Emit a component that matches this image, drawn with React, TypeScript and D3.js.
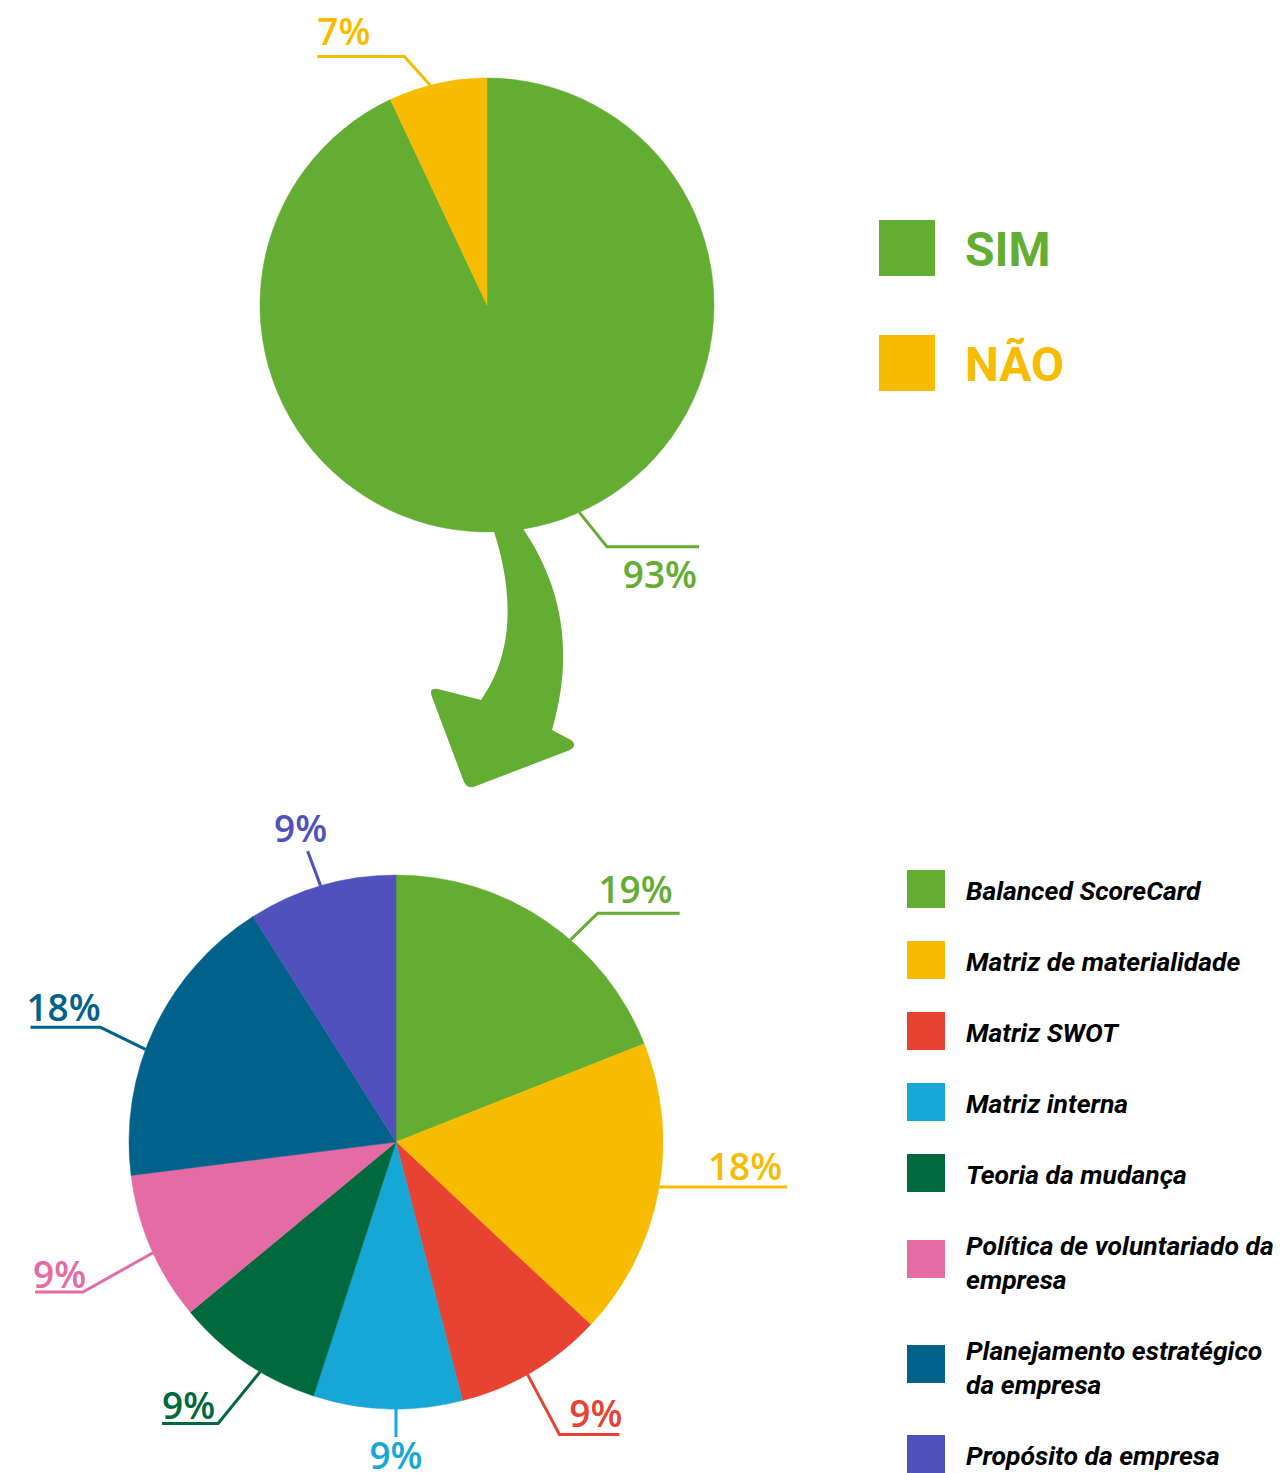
import * as d3 from 'd3'

// top pie: "SIM / NÃO"
const answerLabels = ['SIM', 'NÃO']
const answerValues = [93, 7]
const answerColors = ['#62ad32', '#f7bc00']

// bottom pie: methods used
const methodLabels = [
  'Balanced ScoreCard',
  'Matriz de materialidade',
  'Matriz SWOT',
  'Matriz interna',
  'Teoria da mudança',
  'Política de voluntariado da\nempresa',
  'Planejamento estratégico\nda empresa',
  'Propósito da empresa',
]
const methodValues = [19, 18, 9, 9, 9, 9, 18, 9]
const methodColors = ['#62ad32', '#f7bc00', '#e84232', '#17a7d6', '#00693e', '#e56ba4', '#00628b', '#5151bd']

// leader line layout (angles in degrees from 12 o'clock, radial length, horizontal run)
const answerLeaders = [
  { angle: 156, bend: 153.6, radial: 43, run: 92, anchor: 'end', dx: -2, dy: 41 },
  { angle: 345.5, bend: 341.6, radial: 35, run: -87, anchor: 'start', dx: 0, dy: -11 },
]
const methodLeaders = [
  { angle: 40.8, bend: 41.4, radial: 38, run: 82, anchor: 'end', dx: -7, dy: -10 },
  { angle: 99.7, bend: 99.7, radial: 0, run: 128, anchor: 'end', dx: -5, dy: -7 },
  { angle: 150.5, bend: 150.8, radial: 68, run: 60, anchor: 'end', dx: 3, dy: -7 },
  { angle: 180, bend: 180, radial: 28, run: 0, anchor: 'middle', dx: 0, dy: 32 },
  { angle: 210.6, bend: 212.3, radial: 66, run: -56, anchor: 'start', dx: 0, dy: -4 },
  { angle: 245.5, bend: 244.4, radial: 80, run: -48, anchor: 'start', dx: -2, dy: -4 },
  { angle: 290.3, bend: 291.2, radial: 50, run: -70, anchor: 'start', dx: -4, dy: -6 },
  { angle: 343.6, bend: 343.1, radial: 37, run: 0, anchor: 'middle', dx: -7, dy: -9 },
]

const W = 1287
const H = 1473
const pctFont = '"Open Sans", Lato, sans-serif'
const legendFont = 'Roboto, "Noto Sans", sans-serif'

type Leader = { angle: number; bend: number; radial: number; run: number; anchor: string; dx: number; dy: number }

function PieBlock({
  values,
  colors,
  leaders,
  cx,
  cy,
  r,
}: {
  values: number[]
  colors: string[]
  leaders: Leader[]
  cx: number
  cy: number
  r: number
}) {
  const total = d3.sum(values)
  const pie = d3.pie<number>().sort(null).value((d) => d)
  const arc = d3.arc<d3.PieArcDatum<number>>().innerRadius(0).outerRadius(r)
  const arcs = pie(values)
  const rad = d3.scaleLinear().domain([0, 360]).range([0, 2 * Math.PI])

  return (
    <g transform={`translate(${cx},${cy})`}>
      {arcs.map((a, i) => (
        <path key={i} d={arc(a) || ''} fill={colors[i]} stroke={colors[i]} strokeWidth={0.5} />
      ))}
      {arcs.map((a, i) => {
        const L = leaders[i]
        const t = rad(L.angle)
        const b = rad(L.bend)
        const sx = r * Math.sin(t)
        const sy = -r * Math.cos(t)
        const ex = (r + L.radial) * Math.sin(b)
        const ey = -(r + L.radial) * Math.cos(b)
        const hx = ex + L.run
        const line = d3.line()([
          [sx, sy],
          [ex, ey],
          [hx, ey],
        ])
        const pct = Math.round((a.value / total) * 100)
        return (
          <g key={'l' + i}>
            <path d={line || ''} fill="none" stroke={colors[i]} strokeWidth={3} />
            <text
              x={hx + L.dx}
              y={ey + L.dy}
              textAnchor={L.anchor}
              fill={colors[i]}
              fontFamily={pctFont}
              fontWeight={600}
              fontSize={37}
            >
              {pct}%
            </text>
          </g>
        )
      })}
    </g>
  )
}

export default function App() {
  // top pie geometry
  const tcx = 487
  const tcy = 305
  const tr = 227
  // bottom pie geometry
  const bcx = 396
  const bcy = 1142
  const br = 267

  // legend layout for the methods
  let baseline = 900
  const legendRows = methodLabels.map((label) => {
    const lines = label.split('\n')
    const first = baseline
    const squareY = lines.length > 1 ? first - 15 : first - 30
    baseline = first + (lines.length - 1) * 34 + 71
    return { lines, first, squareY }
  })

  return (
    <svg
      width={W}
      height={H}
      style={{ position: 'absolute', left: 0, top: 0, background: '#fff' }}
    >
      {/* curved arrow linking the two pies */}
      <path
        d={`M ${tcx + 3} ${tcy + 215} C ${tcx + 23} ${tcy + 270}, ${tcx + 33} ${tcy + 340}, ${tcx - 6} ${tcy + 395}
            L ${tcx - 49} ${tcy + 384} Q ${tcx - 59} ${tcy + 382} ${tcx - 55} ${tcy + 392}
            L ${tcx - 23} ${tcy + 477} Q ${tcx - 19} ${tcy + 485} ${tcx - 11} ${tcy + 481}
            L ${tcx + 83} ${tcy + 445} Q ${tcx + 91} ${tcy + 440} ${tcx + 84} ${tcy + 435}
            L ${tcx + 65} ${tcy + 425} C ${tcx + 85} ${tcy + 355}, ${tcx + 81} ${tcy + 285}, ${tcx + 30} ${tcy + 215} Z`}
        fill="#62ad32"
      />

      <PieBlock values={answerValues} colors={answerColors} leaders={answerLeaders} cx={tcx} cy={tcy} r={tr} />
      <PieBlock values={methodValues} colors={methodColors} leaders={methodLeaders} cx={bcx} cy={bcy} r={br} />

      {/* top legend */}
      {answerLabels.map((label, i) => (
        <g key={label} transform={`translate(879,${220 + i * 115})`}>
          <rect width={56} height={56} fill={answerColors[i]} />
          <text x={86} y={46} fill={answerColors[i]} fontFamily={legendFont} fontWeight={700} fontSize={48}>
            {label}
          </text>
        </g>
      ))}

      {/* bottom legend */}
      {legendRows.map((row, i) => (
        <g key={i}>
          <rect x={907} y={row.squareY} width={38} height={38} fill={methodColors[i]} />
          {row.lines.map((ln, j) => (
            <text
              key={j}
              x={966}
              y={row.first + j * 34}
              fill="#000"
              fontFamily={legendFont}
              fontWeight={700}
              fontStyle="italic"
              fontSize={26.5}
            >
              {ln}
            </text>
          ))}
        </g>
      ))}
    </svg>
  )
}
